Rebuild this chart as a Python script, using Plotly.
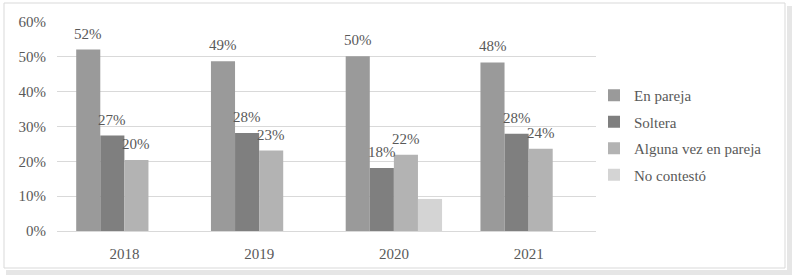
import plotly.graph_objects as go

years = ["2018", "2019", "2020", "2021"]
series_names = ["En pareja", "Soltera", "Alguna vez en pareja", "No contestó"]
en_pareja = [0.521, 0.487, 0.502, 0.484]
soltera = [0.274, 0.281, 0.181, 0.279]
alguna_vez = [0.204, 0.231, 0.219, 0.236]
no_contesto = [None, None, 0.092, None]
labeled = [True, True, True, False]
colors = ["#9a9a9a", "#7f7f7f", "#b3b3b3", "#d4d4d4"]
y_ticks = [0, 0.1, 0.2, 0.3, 0.4, 0.5, 0.6]

all_series = [en_pareja, soltera, alguna_vez, no_contesto]

W, H = 794, 277
L, R, T, B = 57, 198, 22, 46
plot_w = W - L - R
plot_h = H - T - B
bargap = 0.285

FONT = "Liberation Serif, Times New Roman, serif"
TXT = "#595959"

fig = go.Figure()
for i, (name, vals) in enumerate(zip(series_names, all_series)):
    fig.add_trace(go.Bar(
        x=years, y=vals, name=name,
        marker=dict(color=colors[i], line=dict(width=0)),
        legendgroup=name,
    ))

# data labels as annotations above each bar
n = len(all_series)
cat_w = plot_w / len(years)
bar_w = cat_w * (1 - bargap) / n
for i, vals in enumerate(all_series):
    if not labeled[i]:
        continue
    xs = (i - (n - 1) / 2) * bar_w
    for j, v in enumerate(vals):
        if v is None:
            continue
        fig.add_annotation(
            x=j, y=v, text=f"{round(v * 100):d}%",
            showarrow=False, xshift=xs, yshift=16,
            font=dict(family=FONT, size=15, color=TXT),
            xanchor="center", yanchor="middle",
        )

def px_x(p):
    return (p - L) / plot_w

def px_y(p):
    return (H - B - p) / plot_h

# outer frame and shadow band
fig.add_shape(type="rect", xref="paper", yref="paper",
              x0=px_x(787), x1=px_x(792), y0=px_y(275), y1=px_y(6),
              fillcolor="#e6e6e6", line=dict(width=0), layer="below")
fig.add_shape(type="rect", xref="paper", yref="paper",
              x0=px_x(6), x1=px_x(792), y0=px_y(275), y1=px_y(270),
              fillcolor="#e6e6e6", line=dict(width=0), layer="below")
fig.add_shape(type="rect", xref="paper", yref="paper",
              x0=px_x(4), x1=px_x(785), y0=px_y(268), y1=px_y(3),
              line=dict(color="#d9d9d9", width=1), fillcolor="rgba(0,0,0,0)", layer="below")

fig.update_layout(
    width=W, height=H,
    margin=dict(l=L, r=R, t=T, b=B),
    barmode="group", bargap=bargap, bargroupgap=0,
    paper_bgcolor="white", plot_bgcolor="white",
    font=dict(family=FONT, size=15, color=TXT),
    showlegend=True,
    legend=dict(
        x=px_x(594), y=px_y(79), xanchor="left", yanchor="top",
        font=dict(family=FONT, size=15, color=TXT),
        traceorder="grouped", tracegroupgap=4,
        bgcolor="rgba(0,0,0,0)",
    ),
    xaxis=dict(type="category", categoryarray=years, range=[-0.5, len(years) - 0.5],
               showgrid=False, showline=False, ticks="",
               tickfont=dict(family=FONT, size=15, color=TXT),
               ticklabelstandoff=12),
    yaxis=dict(range=[0, 0.6], tickvals=y_ticks, tickformat=".0%",
               showgrid=True, gridcolor="#d9d9d9", gridwidth=1,
               zeroline=True, zerolinecolor="#d9d9d9", zerolinewidth=1,
               showline=False, ticks="",
               tickfont=dict(family=FONT, size=15, color=TXT),
               ticklabelstandoff=10),
)

fig.write_html("out.html", config={"displayModeBar": False},
               post_script="document.body.style.margin='0px';")
